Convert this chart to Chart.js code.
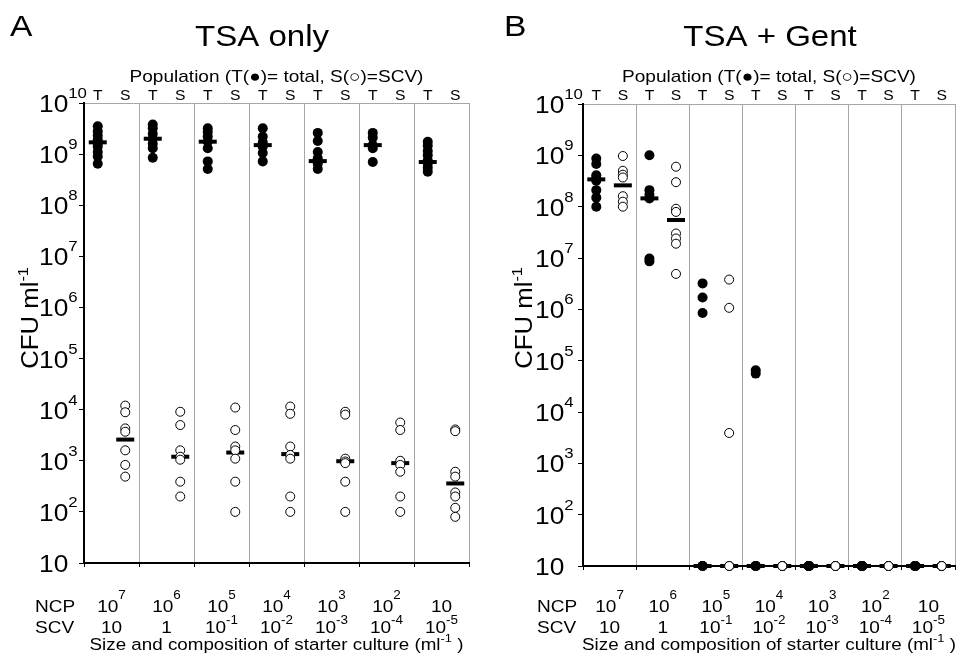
<!DOCTYPE html>
<html>
<head>
<meta charset="utf-8">
<script src="https://cdn.jsdelivr.net/npm/chart.js@4"></script>
<style>
  html, body { margin: 0; padding: 0; background: #fff; }
  #wrap { position: relative; width: 968px; height: 653px; }
  .panel { position: absolute; top: 0; width: 484px; height: 653px; }
</style>
</head>
<body>
<div id="wrap">
  <div class="panel" style="left:0"><canvas id="chartA" width="484" height="653"></canvas></div>
  <div class="panel" style="left:484px"><canvas id="chartB" width="484" height="653"></canvas></div>
</div>
<script>
// ======================================================
// DATA (CFU per ml)
// ======================================================

// starter culture labels: [base, exponent]
const ncpLabels = [["10", "7"], ["10", "6"], ["10", "5"], ["10", "4"], ["10", "3"], ["10", "2"], ["10", ""]];
const scvLabels = [["10", ""], ["1", ""], ["10", "-1"], ["10", "-2"], ["10", "-3"], ["10", "-4"], ["10", "-5"]];
const yTickExp = [1, 2, 3, 4, 5, 6, 7, 8, 9, 10];

// A: TSA only
const tsaTotal = [
    [3.5e9, 2.8e9, 2.3e9, 1.9e9, 1.6e9, 1.4e9, 1.1e9, 9.0e8, 6.5e8],
    [3.8e9, 3.2e9, 2.5e9, 2.0e9, 1.6e9, 1.3e9, 8.5e8],
    [3.2e9, 2.7e9, 2.2e9, 1.75e9, 1.3e9, 7.2e8, 5.1e8],
    [3.2e9, 2.2e9, 1.7e9, 1.4e9, 1.05e9, 7.2e8],
    [2.6e9, 1.8e9, 1.1e9, 8.3e8, 6.5e8, 5.1e8],
    [2.6e9, 2.1e9, 1.5e9, 1.3e9, 7.0e8],
    [1.75e9, 1.45e9, 1.15e9, 9.5e8, 7.6e8, 6.5e8, 5.4e8, 4.5e8]
];
const tsaTotalMedian = [1.7e9, 2.0e9, 1.75e9, 1.5e9, 7.3e8, 1.5e9, 7.0e8];

const tsaScv = [
    [1.2e4, 8.9e3, 4.3e3, 3.7e3, 1.6e3, 8.3e2, 4.9e2],
    [9.1e3, 5.0e3, 1.6e3, 1.2e3, 1.05e3, 3.9e2, 2.0e2],
    [1.1e4, 4.0e3, 1.9e3, 1.6e3, 1.1e3, 3.9e2, 1.0e2],
    [1.15e4, 8.3e3, 1.9e3, 1.3e3, 1.1e3, 2.0e2, 1.0e2],
    [9.1e3, 8.0e3, 1.1e3, 9.7e2, 9.0e2, 3.9e2, 1.0e2],
    [5.6e3, 4.0e3, 1.0e3, 8.3e2, 6.1e2, 2.0e2, 1.0e2],
    [4.1e3, 3.8e3, 6.1e2, 4.9e2, 2.4e2, 2.0e2, 1.2e2, 8.0e1]
];
const tsaScvMedian = [2.6e3, 1.2e3, 1.45e3, 1.35e3, 9.8e2, 9.0e2, 3.6e2];

// B: TSA + Gent (10 = below detection, drawn on the axis)
const gentTotal = [
    [8.7e8, 6.8e8, 4.1e8, 3.6e8, 3.2e8, 2.1e8, 1.5e8, 1.0e8],
    [1.0e9, 2.1e8, 1.7e8, 1.45e8, 9.8e6, 8.6e6],
    [3.2e6, 1.7e6, 8.5e5, 10, 10, 10],
    [6.5e4, 5.6e4, 10, 10, 10, 10],
    [10, 10, 10, 10, 10, 10],
    [10, 10, 10, 10, 10, 10],
    [10, 10, 10, 10, 10, 10]
];
const gentTotalMedian = [3.4e8, 1.45e8, 10, 10, 10, 10, 10];

const gentScv = [
    [9.7e8, 5.0e8, 4.2e8, 3.7e8, 1.6e8, 1.25e8, 1.0e8],
    [6.0e8, 3.0e8, 9.1e7, 7.9e7, 3.0e7, 2.4e7, 1.9e7, 4.9e6],
    [3.8e6, 1.07e6, 3.9e3, 10, 10, 10],
    [10, 10, 10, 10, 10, 10],
    [10, 10, 10, 10, 10, 10],
    [10, 10, 10, 10, 10, 10],
    [10, 10, 10, 10, 10, 10]
];
const gentScvMedian = [2.6e8, 5.5e7, 10, 10, 10, 10, 10];

// ======================================================
// TEXT HELPERS
// ======================================================

const FONT = "'Liberation Sans', Arial, 'DejaVu Sans', sans-serif";
const SX = 1.12;   // the figure's lettering is a little stretched sideways

function setFont(ctx, size) {
    ctx.font = size + "px " + FONT;
}

// draw runs of text, some as superscript
function runs(ctx, segs, x, y, size, supSize, raise, align) {
    let total = 0;
    const widths = segs.map(s => {
        setFont(ctx, s.sup ? supSize : size);
        const w = ctx.measureText(s.t).width * SX;
        total += w;
        return w;
    });
    let x0 = align === "center" ? x - total / 2 : align === "right" ? x - total : x;
    segs.forEach((s, i) => {
        setFont(ctx, s.sup ? supSize : size);
        ctx.save();
        ctx.translate(x0, s.sup ? y - raise : y);
        ctx.scale(SX, 1);
        ctx.textAlign = "left";
        ctx.textBaseline = "alphabetic";
        ctx.fillStyle = "#000";
        ctx.fillText(s.t, 0, 0);
        ctx.restore();
        x0 += widths[i];
    });
}

function text(ctx, t, x, y, size, align) {
    runs(ctx, [{ t: t }], x, y, size, size, 0, align);
}

function pow(ctx, base, exp, x, y, size, supSize, raise, align) {
    const segs = [{ t: base }];
    if (exp) segs.push({ t: exp, sup: true });
    runs(ctx, segs, x, y, size, supSize, raise, align);
}

// ======================================================
// PANEL LETTERING PLUGIN
// ======================================================

const lettering = {
    id: "lettering",
    afterDraw(chart, args, opts) {
        const ctx = chart.ctx;
        const xs = chart.scales.x;
        const ys = chart.scales.y;
        const area = chart.chartArea;
        const mid = (area.left + area.right) / 2;

        text(ctx, opts.letter, opts.letterX, 36, 30, "left");
        text(ctx, opts.title, opts.titleX, 46, 29.5, "center");
        text(ctx, "Population (T(\u25CF)= total, S(\u25CB)=SCV)", mid, 82, 17, "center");

        for (let i = 0; i < 7; i++) {
            text(ctx, "T", xs.getPixelForValue(i + 0.25), 100, 14, "center");
            text(ctx, "S", xs.getPixelForValue(i + 0.75), 100, 14, "center");
        }

        // y tick labels
        yTickExp.forEach(k => {
            const py = ys.getPixelForValue(Math.pow(10, k));
            pow(ctx, "10", k === 1 ? "" : String(k), opts.tickX, py + 9, 23.5, 15, 14, "left");
        });

        // y title
        ctx.save();
        ctx.translate(opts.cfuX, 318);
        ctx.rotate(-Math.PI / 2);
        runs(ctx, [{ t: "CFU ml" }, { t: "-1", sup: true }], 0, 8, 23, 14.5, 10, "center");
        ctx.restore();

        // starter culture rows
        text(ctx, "NCP", opts.rowX, 612, 17, "left");
        text(ctx, "SCV", opts.rowX, 633, 17, "left");
        for (let i = 0; i < 7; i++) {
            const cx = xs.getPixelForValue(i + 0.5);
            pow(ctx, ncpLabels[i][0], ncpLabels[i][1], cx, 612, 17, 12, 13, "center");
            pow(ctx, scvLabels[i][0], scvLabels[i][1], cx, 633, 17, 12, 9, "center");
        }

        runs(ctx, [
            { t: "Size and composition of starter culture (ml" },
            { t: "-1", sup: true },
            { t: " )" }
        ], mid, 650, 16.8, 11.5, 8, "center");
    }
};

// ======================================================
// CHART BUILDER
// ======================================================

function points(groups, offset) {
    return groups.flatMap((vals, i) => vals.map(v => ({ x: i + offset, y: v })));
}

function medians(vals, offset) {
    return vals.map((v, i) => ({ x: i + offset, y: v }));
}

function makeChart(id, total, totalMed, scv, scvMed, panel) {

    const ctx = document.getElementById(id).getContext("2d");

    return new Chart(ctx, {

        type: "scatter",

        data: {
            datasets: [
                {
                    label: "S",
                    data: points(scv, 0.75),
                    pointStyle: "circle",
                    pointRadius: 4.5,
                    pointBackgroundColor: "#fff",
                    pointBorderColor: "#000",
                    pointBorderWidth: 1,
                    order: 0,
                    clip: false
                },
                {
                    label: "T median",
                    data: medians(totalMed, 0.25),
                    pointStyle: "line",
                    pointRadius: 9,
                    pointBorderColor: "#000",
                    pointBorderWidth: 4,
                    order: 1,
                    clip: false
                },
                {
                    label: "S median",
                    data: medians(scvMed, 0.75),
                    pointStyle: "line",
                    pointRadius: 9,
                    pointBorderColor: "#000",
                    pointBorderWidth: 4,
                    order: 1,
                    clip: false
                },
                {
                    label: "T",
                    data: points(total, 0.25),
                    pointStyle: "circle",
                    pointRadius: 5,
                    pointBackgroundColor: "#000",
                    pointBorderColor: "#000",
                    pointBorderWidth: 0,
                    order: 2,
                    clip: false
                }
            ]
        },

        options: {
            responsive: false,
            devicePixelRatio: 1,
            animation: false,
            events: [],
            layout: {
                padding: { top: panel.top, right: panel.right, left: 0, bottom: 0 }
            },
            plugins: {
                legend: { display: false },
                tooltip: { enabled: false },
                lettering: panel
            },
            scales: {
                x: {
                    type: "linear",
                    min: 0,
                    max: 7,
                    afterBuildTicks: s => { s.ticks = [0, 1, 2, 3, 4, 5, 6, 7].map(v => ({ value: v })); },
                    afterFit: s => { s.height = panel.xHeight; },
                    ticks: { display: false },
                    grid: {
                        color: c => (c.tick && c.tick.value === 0) ? "rgba(0,0,0,0)" : "#a6a6a6",
                        lineWidth: 1,
                        drawTicks: true,
                        tickLength: 4,
                        tickColor: "#000",
                        tickWidth: 1
                    },
                    border: { color: "#000", width: 2 }
                },
                y: {
                    type: "logarithmic",
                    min: 10,
                    max: 1e10,
                    afterBuildTicks: s => { s.ticks = yTickExp.map(k => ({ value: Math.pow(10, k) })); },
                    afterFit: s => { s.width = panel.yWidth; },
                    ticks: { display: false },
                    grid: {
                        color: c => (c.tick && c.tick.value === 1e10) ? "#a6a6a6" : "rgba(0,0,0,0)",
                        lineWidth: 1,
                        drawTicks: true,
                        tickLength: 5,
                        tickColor: "#000",
                        tickWidth: 1
                    },
                    border: { color: "#000", width: 2 }
                }
            }
        },

        plugins: [lettering]

    });

}

makeChart("chartA", tsaTotal, tsaTotalMedian, tsaScv, tsaScvMedian, {
    letter: "A", letterX: 10, title: "TSA only", titleX: 262,
    tickX: 39, cfuX: 30, rowX: 35,
    top: 103, right: 15, yWidth: 84, xHeight: 90
});

makeChart("chartB", gentTotal, gentTotalMedian, gentScv, gentScvMedian, {
    letter: "B", letterX: 20, title: "TSA + Gent", titleX: 286,
    tickX: 51, cfuX: 40, rowX: 53,
    top: 104, right: 0, yWidth: 99, xHeight: 87
});
</script>
</body>
</html>
